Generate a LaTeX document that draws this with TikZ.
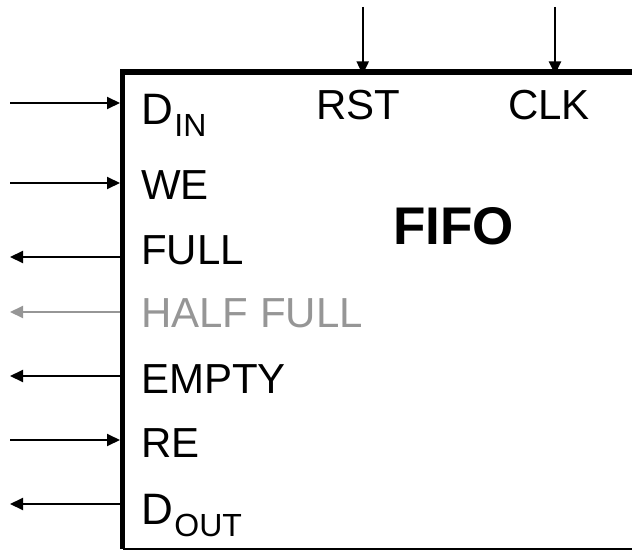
\documentclass[tikz,border=0pt]{standalone}
\usepackage{fontspec}
\setmainfont{Liberation Sans}
\usetikzlibrary{arrows.meta}
\definecolor{halfgray}{RGB}{150,150,150}
\newcommand{\sigtext}{\fontsize{42}{42}\selectfont}
\newcommand{\busname}[2]{{\fontsize{44}{44}\selectfont #1}\kern1.5pt\raisebox{-12pt}{\fontsize{32}{32}\selectfont #2}}
\begin{document}
\begin{tikzpicture}[x=1pt,y=1pt,
  sig/.style={anchor=base west, inner sep=0pt, font=\sigtext},
  wire/.style={line width=2pt, -{Triangle[length=13pt,width=12pt]}},
  frame/.style={line width=5.3pt}]
\useasboundingbox (0,0) rectangle (632,550);
% block outline (thick left and top edges, thin bottom edge)
\draw[frame] (122.7,1) -- (122.7,478) -- (640,478);
\draw[line width=1.5pt] (122.7,1) -- (640,1);
% pin labels
\node[sig] (din)   at (141,425) {\busname{D}{IN}};
\node[sig] (we)    at (141,351) {WE};
\node[sig] (full)  at (141,286) {FULL};
\node[sig, text=halfgray] (half) at (141,223) {HALF FULL};
\node[sig] (empty) at (141,157) {EMPTY};
\node[sig] (re)    at (141,93)  {RE};
\node[sig] (dout)  at (141,26)  {\busname{D}{OUT}};
\node[sig] (rst)   at (316,430) {RST};
\node[sig] (clk)   at (508,430) {CLK};
\node[sig, font=\fontsize{53}{53}\selectfont\bfseries] (fifo) at (393,306) {FIFO};
% pin ends on the block edge and outside
\coordinate (pdin)   at (120,447);  \coordinate (xdin)   at (10,447);
\coordinate (pwe)    at (120,367);  \coordinate (xwe)    at (10,367);
\coordinate (pfull)  at (120,293);  \coordinate (xfull)  at (10,293);
\coordinate (phalf)  at (120,238);  \coordinate (xhalf)  at (10,238);
\coordinate (pempty) at (120,174);  \coordinate (xempty) at (10,174);
\coordinate (pre)    at (120,110);  \coordinate (xre)    at (10,110);
\coordinate (pdout)  at (120,46);   \coordinate (xdout)  at (10,46);
\coordinate (prst)   at (362.7,475.5); \coordinate (xrst) at (362.7,543);
\coordinate (pclk)   at (555,475.5);   \coordinate (xclk) at (555,543);
% inputs
\draw[wire] (xdin) -- (pdin);
\draw[wire] (xwe) -- (pwe);
\draw[wire] (xre) -- (pre);
\draw[wire] (xrst) -- (prst);
\draw[wire] (xclk) -- (pclk);
% outputs
\draw[wire] (pfull) -- (xfull);
\draw[wire, draw=halfgray, fill=halfgray] (phalf) -- (xhalf);
\draw[wire] (pempty) -- (xempty);
\draw[wire] (pdout) -- (xdout);
\end{tikzpicture}
\end{document}
